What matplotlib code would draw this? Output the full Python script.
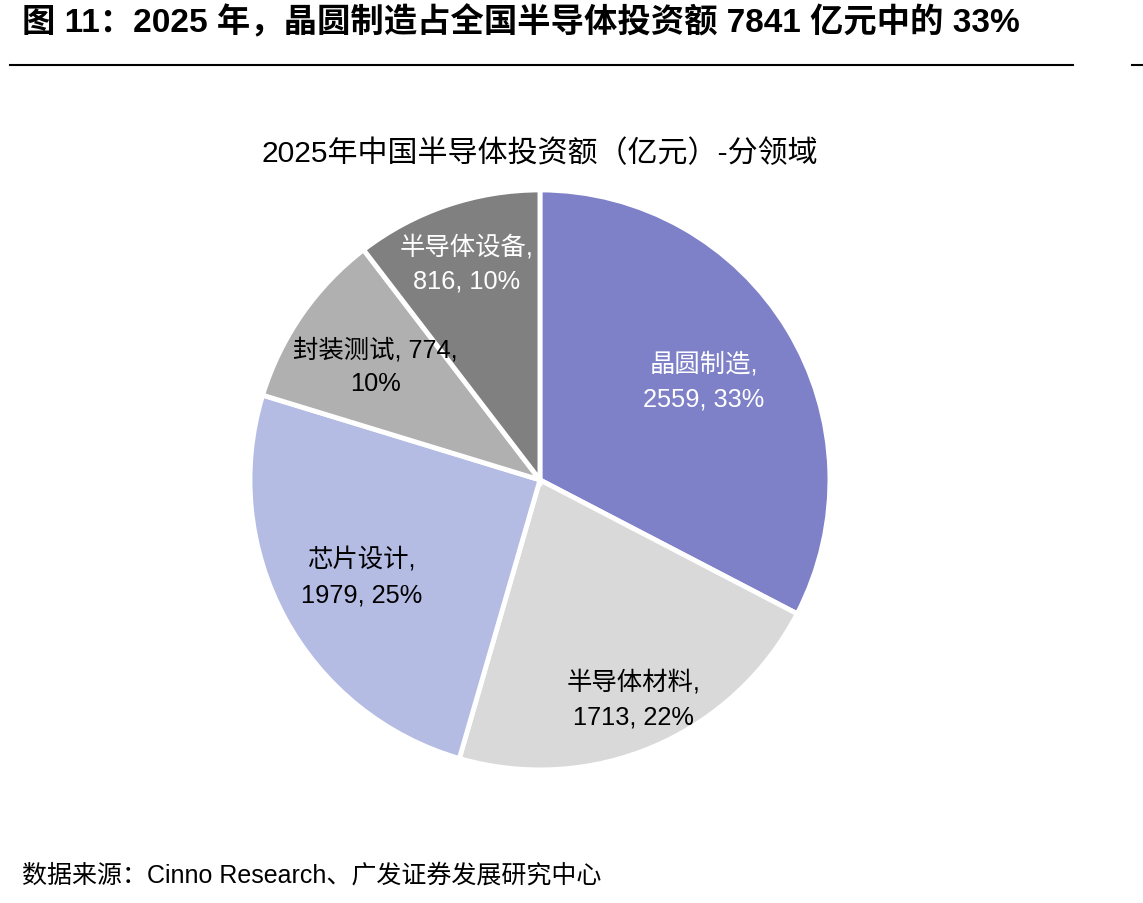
# 2025年中国半导体投资额 - 分领域 饼图
import numpy as np
import matplotlib.pyplot as plt

plt.rcParams['font.family'] = ['Liberation Sans', 'Noto Sans CJK SC', 'DejaVu Sans']

# 数据
categories = ['晶圆制造', '半导体材料', '芯片设计', '封装测试', '半导体设备']
values = [2559, 1713, 1979, 774, 816]
label_text = ['晶圆制造,\n2559, 33%', '半导体材料,\n1713, 22%', '芯片设计,\n1979, 25%',
              '封装测试, 774,\n10%', '半导体设备,\n816, 10%']

colors = ['#7E80C8', '#D9D9D9', '#B4BCE4', '#B0B0B0', '#808080']
text_colors = ['white', 'black', 'black', 'black', 'white']
label_r = [0.66, 0.82, 0.70, 0.69, 0.79]

fig = plt.figure(figsize=(11.43, 9.04), dpi=100)

# 图表标题
fig.text(22 / 1143, 1 - 23 / 904, '图 11：2025 年，晶圆制造占全国半导体投资额 7841 亿元中的 33%',
         fontsize=24, fontweight='bold', va='center', ha='left')
fig.add_artist(plt.Line2D([10 / 1143, 1073 / 1143], [1 - 66 / 904] * 2, color='black', lw=1.5))
fig.add_artist(plt.Line2D([1132 / 1143, 1.0], [1 - 66 / 904] * 2, color='black', lw=1.5))

ax = fig.add_axes([0.2187, 0.1472, 0.5074, 0.6416])
wedges, _ = ax.pie(values, colors=colors, startangle=90, counterclock=False,
                   wedgeprops=dict(edgecolor='white', linewidth=3.5))
ax.set_xlim(-1, 1)
ax.set_ylim(-1, 1)
ax.set_aspect('equal')
ax.axis('off')

# 标签
for w, txt, tc, r in zip(wedges, label_text, text_colors, label_r):
    ang = np.deg2rad((w.theta1 + w.theta2) / 2)
    ax.text(r * np.cos(ang), r * np.sin(ang), txt, ha='center', va='center',
            fontsize=18.3, color=tc, linespacing=1.55)

fig.text(540 / 1143, 1 - 154 / 904, '2025年中国半导体投资额（亿元）-分领域',
         fontsize=21.6, ha='center', va='center')

fig.text(22 / 1143, 1 - 876 / 904, '数据来源：Cinno Research、广发证券发展研究中心',
         fontsize=18, ha='left', va='center')

plt.savefig('out.png', dpi=100)
